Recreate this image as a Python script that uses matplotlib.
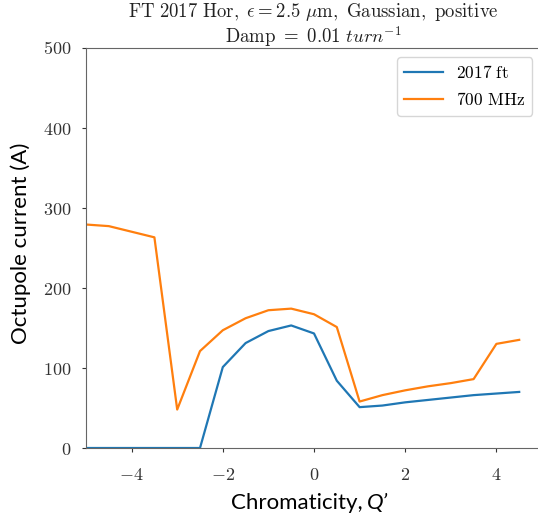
import matplotlib
matplotlib.use("Agg")
import matplotlib.pyplot as plt
import numpy as np

plt.rcParams['mathtext.fontset'] = 'cm'

chroma = [-5, -4.5, -4, -3.5, -3, -2.5, -2, -1.5, -1, -0.5, 0, 0.5, 1, 1.5, 2, 2.5, 3, 3.5, 4, 4.5]
ft2017 = [0, 0, 0, 0, 0, 0, 101, 131, 146, 153, 143, 84, 51, 53, 57, 60, 63, 66, 68, 70]
mhz700 = [279, 277, 270, 263, 48, 121, 147, 162, 172, 174, 167, 151, 58, 66, 72, 77, 81, 86, 130, 135]
series_labels = [r"$\mathrm{2017\ ft}$", r"$\mathrm{700\ MHz}$"]
xticks = [-4, -2, 0, 2, 4]
yticks = [0, 100, 200, 300, 400, 500]

W, H = 538, 517
L, R, T, B = 86, 542, 47.5, 448
fig = plt.figure(figsize=(W / 100, H / 100), dpi=100)
ax = fig.add_axes([L / W, 1 - B / H, (R - L) / W, (B - T) / H])

ax.plot(chroma, ft2017, color='#1f77b4', lw=1.6, label=series_labels[0])
ax.plot(chroma, mhz700, color='#ff7f0e', lw=1.6, label=series_labels[1])

ax.set_xlim(-5, 5)
ax.set_ylim(0, 500)
ax.set_xticks(xticks)
ax.set_xticklabels([r"$%d$" % v if v < 0 else r"$\mathrm{%d}$" % v for v in xticks])
ax.set_yticks(yticks)
ax.set_yticklabels([r"$\mathrm{%d}$" % v for v in yticks])
ax.tick_params(labelsize=13, colors='#333333', length=3)
ax.tick_params(axis='x', pad=10)
ax.tick_params(axis='y', pad=7.5)
for s in ax.spines.values():
    s.set_color('#666666')
ax.spines['right'].set_visible(False)

cx = (L + 541) / 2 / W
fig.text(cx, 1 - 17 / H,
         r"$\mathrm{FT\ 2017\ Hor,}\ \epsilon = 2.5\ \mu\mathrm{m,\ Gaussian,\ positive}$",
         fontsize=13.5, ha='center', va='baseline', color='#222222')
fig.text(cx, 1 - 43 / H, r"$\mathrm{Damp}\ =\ 0.01\ turn^{-1}$",
         fontsize=13.5, ha='center', va='baseline', color='#222222')

leg = ax.legend(loc='upper right', fontsize=12.5, frameon=True, borderaxespad=0.55,
                handlelength=2.2)
leg.get_frame().set_edgecolor('#cccccc')

fig.text(363 / W, 1 - 509 / H, "Chromaticity,", family='Lato', fontsize=16,
         ha='right', va='baseline')
fig.text(367 / W, 1 - 509 / H, "Q’", family='Lato', style='italic', fontsize=16,
         ha='left', va='baseline')
fig.text(21 / W, 1 - 243 / H, "Octupole current (A)", family='Lato', fontsize=16,
         rotation=90, ha='center', va='center')

fig.savefig("out.png", dpi=100)
